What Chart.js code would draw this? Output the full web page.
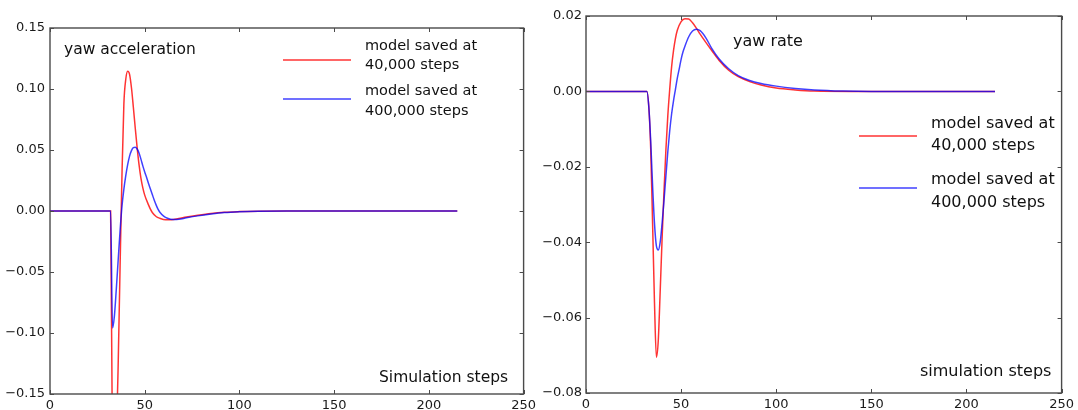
<!DOCTYPE html>
<html>
<head>
<meta charset="utf-8">
<script src="https://cdn.jsdelivr.net/npm/chart.js@4.4.1/dist/chart.umd.min.js"></script>
<style>
  body { margin: 0; background: #fff; }
  .panel { position: absolute; top: 0; height: 410px; }
  #left { left: 0; width: 540px; }
  #right { left: 540px; width: 538px; }
</style>
</head>
<body>
<div class="panel" id="left"><canvas id="accChart"></canvas></div>
<div class="panel" id="right"><canvas id="rateChart"></canvas></div>

<script>
// yaw acceleration, model saved at 40,000 steps
const accStepsRed = [0, 32, 33, 34, 35, 36, 37, 38, 39, 40, 41, 42, 43, 44, 45, 46, 47, 48, 49, 50, 52, 53, 54, 56, 58, 61, 64, 68, 72, 78, 85, 92, 100, 110, 125, 150, 215];
const accRed      = [0, 0, -0.20, -0.22, -0.19, -0.125, -0.045, 0.03, 0.088, 0.108, 0.1145, 0.112, 0.101, 0.085, 0.068, 0.052, 0.038, 0.027, 0.019, 0.013, 0.005, 0.0015, -0.0012, -0.0045, -0.006, -0.0072, -0.0072, -0.0062, -0.005, -0.0035, -0.002, -0.001, -0.0005, -0.0002, 0, 0, 0];
// yaw acceleration, model saved at 400,000 steps
const accStepsBlue = [0, 32, 33, 34, 35, 36, 37, 38, 39, 40, 41, 42, 43, 44, 45, 46, 47, 48, 49, 50, 51, 52, 53, 54, 55, 56, 57, 58, 60, 62, 65, 68, 72, 78, 85, 92, 100, 110, 125, 150, 215];
const accBlue      = [0, 0, -0.096, -0.086, -0.064, -0.040, -0.016, 0.004, 0.018, 0.029, 0.038, 0.045, 0.0495, 0.052, 0.0523, 0.0508, 0.0475, 0.0425, 0.037, 0.032, 0.0275, 0.0225, 0.018, 0.0135, 0.009, 0.005, 0.0015, -0.001, -0.0042, -0.006, -0.0070, -0.0068, -0.0056, -0.004, -0.0025, -0.0013, -0.0006, -0.0002, 0, 0, 0];

// yaw rate, 40,000 steps
const rateStepsRed = [0, 32, 33, 34, 35, 36, 37, 38, 39, 40, 41, 42, 43, 44, 45, 46, 47, 48, 50, 52, 54, 56, 58, 60, 63, 66, 70, 75, 80, 86, 92, 100, 110, 120, 140, 215];
const rateRed      = [0, 0, -0.004, -0.015, -0.035, -0.056, -0.0705, -0.066, -0.053, -0.039, -0.0265, -0.0155, -0.0065, 0.0005, 0.0065, 0.0108, 0.0140, 0.0162, 0.0185, 0.0193, 0.0192, 0.0182, 0.0168, 0.0152, 0.013, 0.0109, 0.0082, 0.0056, 0.0039, 0.0026, 0.0017, 0.0009, 0.0004, 0.0001, 0, 0];
// yaw rate, 400,000 steps
const rateStepsBlue = [0, 32, 33, 34, 35, 36, 37, 38, 39, 40, 41, 42, 43, 44, 45, 46, 47, 48, 49, 50, 51, 52, 54, 56, 58, 60, 63, 66, 70, 75, 80, 86, 92, 100, 110, 120, 135, 150, 215];
const rateBlue      = [0, 0, -0.004, -0.013, -0.025, -0.035, -0.041, -0.0421, -0.040, -0.035, -0.029, -0.0225, -0.016, -0.0105, -0.006, -0.0025, 0.0005, 0.0035, 0.006, 0.0085, 0.0105, 0.012, 0.0145, 0.016, 0.0165, 0.0161, 0.0142, 0.0115, 0.0086, 0.006, 0.0042, 0.0029, 0.0021, 0.0014, 0.0008, 0.0004, 0.0001, 0, 0];

const xTicksStep = 50;
const legendLabels = [['model saved at', '40,000 steps'], ['model saved at', '400,000 steps']];

const RED = 'rgba(255, 0, 0, 0.8)';
const BLUE = 'rgba(0, 0, 255, 0.75)';
const FONT = '"DejaVu Sans", Verdana, sans-serif';

function pts(xs, ys) {
    return xs.map((x, i) => ({ x: x, y: ys[i] }));
}

function fmt(v) {
    if (Math.abs(v) < 1e-9) v = 0;
    return v.toFixed(2).replace('-', '\u2212');
}

// box round the plot with inward ticks on all four sides, matplotlib style
const frameTicks = {
    id: 'frameTicks',
    afterDatasetsDraw(chart) {
        const { ctx, chartArea: a, scales } = chart;
        ctx.save();
        ctx.strokeStyle = '#4a4a4a';
        ctx.lineWidth = 1.4;
        ctx.strokeRect(a.left, a.top, a.right - a.left, a.bottom - a.top);
        ctx.lineWidth = 1;
        ctx.beginPath();
        scales.x.ticks.forEach(t => {
            const px = Math.round(scales.x.getPixelForValue(t.value)) + 0.5;
            ctx.moveTo(px, a.bottom); ctx.lineTo(px, a.bottom - 4);
            ctx.moveTo(px, a.top); ctx.lineTo(px, a.top + 4);
        });
        scales.y.ticks.forEach(t => {
            const py = Math.round(scales.y.getPixelForValue(t.value)) + 0.5;
            ctx.moveTo(a.left, py); ctx.lineTo(a.left + 4, py);
            ctx.moveTo(a.right, py); ctx.lineTo(a.right - 4, py);
        });
        ctx.stroke();
        ctx.restore();
    }
};

// texts inside the plot and the hand-placed legend
const notes = {
    id: 'notes',
    afterDraw(chart, args, opts) {
        const ctx = chart.ctx;
        ctx.save();
        ctx.fillStyle = '#111';
        ctx.textBaseline = 'middle';
        (opts.texts || []).forEach(t => {
            ctx.font = t.size + 'px ' + FONT;
            ctx.textAlign = t.align || 'left';
            ctx.fillText(t.text, t.x, t.y);
        });
        (opts.legend || []).forEach((l, i) => {
            ctx.strokeStyle = l.color;
            ctx.lineWidth = 1.6;
            ctx.beginPath();
            ctx.moveTo(l.x1, l.y); ctx.lineTo(l.x2, l.y);
            ctx.stroke();
            ctx.font = l.size + 'px ' + FONT;
            ctx.textAlign = 'left';
            legendLabels[i].forEach((s, k) => ctx.fillText(s, l.tx, l.ty[k]));
        });
        ctx.restore();
    }
};

function makeChart(id, red, blue, yMin, yMax, yStep, pad, yWidth, xHeight, labelPad, noteOpts) {
    const line = { borderWidth: 1.5, pointRadius: 0, cubicInterpolationMode: 'monotone' };
    const noGrid = { display: false, drawTicks: false, tickLength: 0 };
    return new Chart(document.getElementById(id), {
        type: 'line',
        data: {
            datasets: [
                Object.assign({ data: blue, borderColor: BLUE, order: 0 }, line),
                Object.assign({ data: red, borderColor: RED, order: 1 }, line)
            ]
        },
        options: {
            animation: false,
            responsive: true,
            maintainAspectRatio: false,
            layout: { padding: pad },
            plugins: { legend: { display: false }, tooltip: { enabled: false }, notes: noteOpts },
            scales: {
                x: {
                    type: 'linear', min: 0, max: 250,
                    grid: noGrid, border: { display: false },
                    ticks: { stepSize: xTicksStep, padding: 4, color: '#1a1a1a', font: { family: FONT, size: 13 }, maxRotation: 0 },
                    afterFit: s => { s.height = xHeight; }
                },
                y: {
                    min: yMin, max: yMax,
                    grid: noGrid, border: { display: false },
                    ticks: { stepSize: yStep, padding: labelPad, color: '#1a1a1a', font: { family: FONT, size: 13 }, callback: fmt },
                    afterFit: s => { s.width = yWidth; }
                }
            }
        },
        plugins: [frameTicks, notes]
    });
}

makeChart('accChart', pts(accStepsRed, accRed), pts(accStepsBlue, accBlue),
    -0.15, 0.15, 0.05, { top: 28, right: 14, left: 0, bottom: 0 }, 50, 16, 5, {
        texts: [
            { text: 'yaw acceleration', x: 64, y: 50, size: 15.5 },
            { text: 'Simulation steps', x: 379, y: 378, size: 15.5 }
        ],
        legend: [
            { color: RED, x1: 283, x2: 351, y: 60, tx: 365, ty: [46, 65], size: 14.5 },
            { color: BLUE, x1: 283, x2: 351, y: 99, tx: 365, ty: [91, 111], size: 14.5 }
        ]
    });

makeChart('rateChart', pts(rateStepsRed, rateRed), pts(rateStepsBlue, rateBlue),
    -0.08, 0.02, 0.02, { top: 16, right: 11, left: 0, bottom: 0 }, 46, 17, 4, {
        texts: [
            { text: 'yaw rate', x: 193, y: 42, size: 16 },
            { text: 'simulation steps', x: 380, y: 372, size: 16 }
        ],
        legend: [
            { color: RED, x1: 319, x2: 377, y: 136, tx: 391, ty: [124, 146], size: 16 },
            { color: BLUE, x1: 319, x2: 377, y: 188, tx: 391, ty: [180, 203], size: 16 }
        ]
    });
</script>
</body>
</html>
